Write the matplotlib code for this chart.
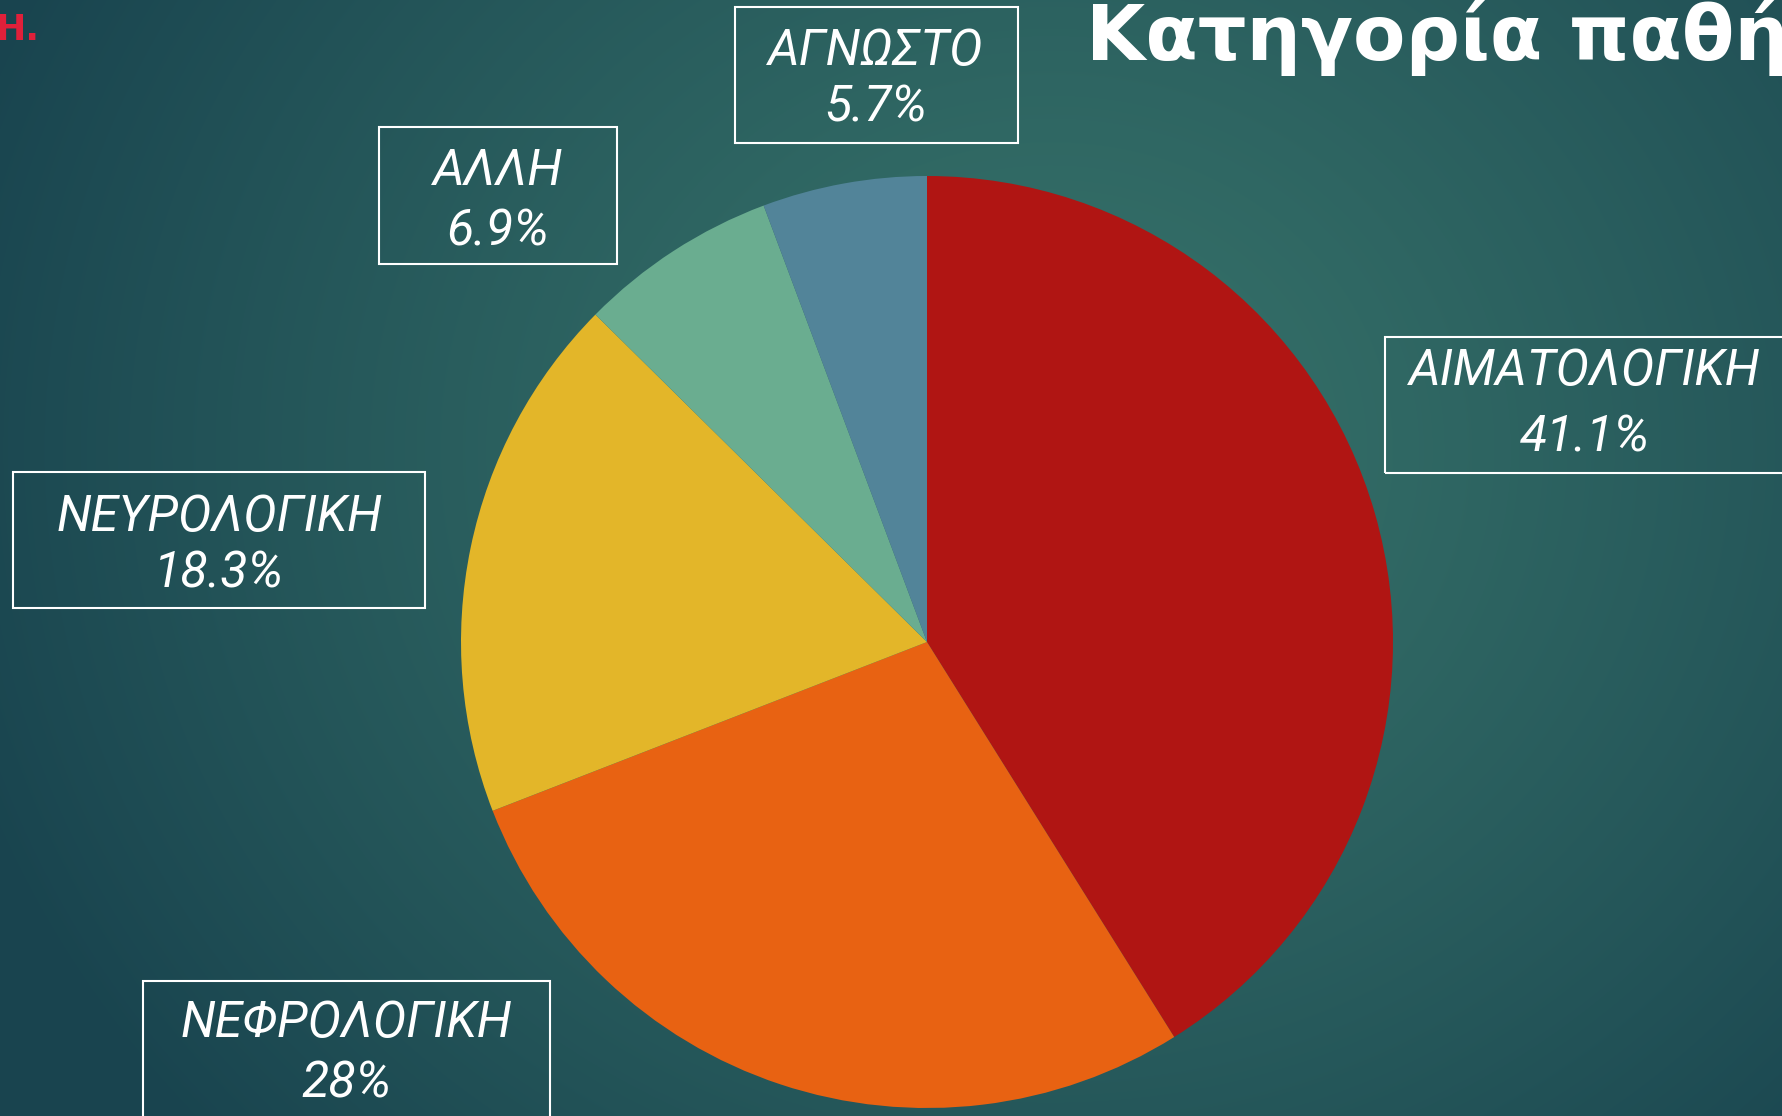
"""Pie chart: Κατηγορία παθήσεων (slide recreation)."""

import matplotlib

matplotlib.use("Agg")
import matplotlib.pyplot as plt
import numpy as np
from matplotlib.patches import Rectangle

W, H = 1783, 1116

# data
categories = ["ΑΙΜΑΤΟΛΟΓΙΚΗ", "ΝΕΦΡΟΛΟΓΙΚΗ", "ΝΕΥΡΟΛΟΓΙΚΗ", "ΑΛΛΗ", "ΑΓΝΩΣΤΟ"]
shares = [41.1, 28, 18.3, 6.9, 5.7]
colors = ["#B01513", "#E86212", "#E3B629", "#6AAD90", "#528499"]
title = "Κατηγορία παθήσεων"
corner_mark = "Η."

# label boxes in pixel coords: (left, top, right, bottom), text centre x, baseline 1, baseline 2
boxes = [
    (1385, 337, 1800, 473, 1585, 385, 452),
    (143, 981, 550, 1130, 346, 1037, 1097),
    (13, 472, 425, 608, 219, 531, 588),
    (379, 127, 617, 264, 498, 185, 245),
    (735, 7, 1018, 143, 876, 65, 122),
]


def yy(y):
    return H - y


fig = plt.figure(figsize=(W / 100, H / 100), dpi=100)
ax = fig.add_axes([0, 0, 1, 1])

# radial background gradient
gx, gy = np.meshgrid(np.arange(W), np.arange(H))
r = np.hypot((gx - 1050) / 1.0, (gy - 450) / 0.9) / 1150
t = np.clip(r, 0, 1) ** 1.2
inner = np.array([0x37, 0x73, 0x6A]) / 255
outer = np.array([0x19, 0x44, 0x4F]) / 255
bg = inner[None, None, :] * (1 - t[..., None]) + outer[None, None, :] * t[..., None]
ax.imshow(bg, extent=(0, W, 0, H), origin="upper", zorder=0, aspect="auto")

ax.pie(
    shares,
    colors=colors,
    startangle=90,
    counterclock=False,
    center=(927, yy(642)),
    radius=466,
    wedgeprops=dict(linewidth=0),
)

lab_font = dict(family=["Roboto", "DejaVu Sans"], style="italic", weight="normal",
                color="white", fontsize=36, ha="center", va="baseline")
for cat, val, (x0, y0, x1, y1, cx, b1, b2) in zip(categories, shares, boxes):
    ax.add_patch(Rectangle((x0, yy(y1)), x1 - x0, y1 - y0, fill=False,
                           edgecolor="white", linewidth=1.5, zorder=3))
    ax.text(cx, yy(b1), cat, zorder=4, **lab_font)
    ax.text(cx, yy(b2), f"{val:g}%", zorder=4, **lab_font)

ax.text(1086, yy(60), title, family=["DejaVu Sans"], weight="bold",
        color="white", fontsize=55, ha="left", va="baseline", zorder=4)
ax.text(-4, yy(40), corner_mark, family=["DejaVu Sans"], weight="bold",
        color="#E0203A", fontsize=26, ha="left", va="baseline", zorder=4)

ax.set_xlim(0, W)
ax.set_ylim(0, H)
ax.set_aspect("auto")
ax.axis("off")

fig.savefig("out.png", dpi=100)
plt.close(fig)
